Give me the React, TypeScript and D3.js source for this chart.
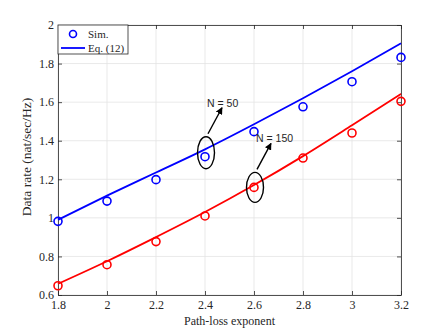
import React, { useEffect, useRef } from "react";
import * as d3 from "d3";

// path-loss exponent values on the x axis
const exponents = [1.8, 2.0, 2.2, 2.4, 2.6, 2.8, 3.0, 3.2];

// N = 50
const simN50 = [0.982, 1.087, 1.198, 1.317, 1.447, 1.576, 1.706, 1.832];
const eqN50 = [0.99, 1.115, 1.235, 1.355, 1.485, 1.62, 1.76, 1.905];

// N = 150
const simN150 = [0.648, 0.757, 0.877, 1.01, 1.158, 1.31, 1.44, 1.604];
const eqN150 = [0.658, 0.775, 0.9, 1.03, 1.17, 1.32, 1.48, 1.643];

const xTicks = [1.8, 2, 2.2, 2.4, 2.6, 2.8, 3, 3.2];
const yTicks = [0.6, 0.8, 1, 1.2, 1.4, 1.6, 1.8, 2];

const App = () => {
  const svgRef = useRef<SVGSVGElement>(null);

  useEffect(() => {
    const width = 443;
    const height = 332;
    const margin = { top: 25, right: 42, bottom: 37, left: 58 };

    const svg = d3.select(svgRef.current);
    svg.selectAll("*").remove();

    const x = d3
      .scaleLinear()
      .domain([1.8, 3.2])
      .range([margin.left, width - margin.right]);
    const y = d3
      .scaleLinear()
      .domain([0.6, 2])
      .range([height - margin.bottom, margin.top]);

    const serif = "'Liberation Serif', 'Times New Roman', serif";
    const sans = "'Liberation Sans', Arial, sans-serif";
    const axisColor = "#262626";

    svg.append("rect").attr("width", width).attr("height", height).attr("fill", "#fff");

    // grid
    const grid = svg.append("g").attr("stroke", "#e3e3e3").attr("stroke-width", 0.8);
    xTicks.forEach((t) => {
      grid
        .append("line")
        .attr("x1", x(t))
        .attr("x2", x(t))
        .attr("y1", y(0.6))
        .attr("y2", y(2));
    });
    yTicks.forEach((t) => {
      grid
        .append("line")
        .attr("x1", x(1.8))
        .attr("x2", x(3.2))
        .attr("y1", y(t))
        .attr("y2", y(t));
    });

    // axes (ticks inside, box all round)
    const fmt = (d: d3.NumberValue) => String(+d);
    const styleAxis = (g: any) => {
      g.select(".domain").attr("stroke", axisColor).attr("stroke-width", 0.8);
      g.selectAll(".tick line").attr("stroke", axisColor).attr("stroke-width", 0.8);
      g.selectAll("text")
        .attr("fill", axisColor)
        .style("font-family", serif)
        .style("font-size", "12px");
    };

    svg
      .append("g")
      .attr("transform", `translate(0,${y(0.6)})`)
      .call(d3.axisBottom(x).tickValues(xTicks).tickFormat(fmt).tickSizeInner(-4).tickSizeOuter(0).tickPadding(5))
      .call(styleAxis);
    svg
      .append("g")
      .attr("transform", `translate(0,${y(2)})`)
      .call(d3.axisTop(x).tickValues(xTicks).tickFormat(() => "").tickSizeInner(-4).tickSizeOuter(0))
      .call(styleAxis);
    svg
      .append("g")
      .attr("transform", `translate(${x(1.8)},0)`)
      .call(d3.axisLeft(y).tickValues(yTicks).tickFormat(fmt).tickSizeInner(-4).tickSizeOuter(0).tickPadding(4))
      .call(styleAxis);
    svg
      .append("g")
      .attr("transform", `translate(${x(3.2)},0)`)
      .call(d3.axisRight(y).tickValues(yTicks).tickFormat(() => "").tickSizeInner(-4).tickSizeOuter(0))
      .call(styleAxis);

    // axis titles
    svg
      .append("text")
      .attr("x", (x(1.8) + x(3.2)) / 2)
      .attr("y", 325)
      .attr("text-anchor", "middle")
      .attr("fill", axisColor)
      .style("font-family", serif)
      .style("font-size", "12px")
      .text("Path-loss exponent");
    svg
      .append("text")
      .attr("transform", `translate(31,157) rotate(-90)`)
      .attr("text-anchor", "middle")
      .attr("fill", axisColor)
      .style("font-family", serif)
      .style("font-size", "13.5px")
      .text("Data rate (nat/sec/Hz)");

    // series
    const series = [
      { sim: simN50, eq: eqN50, color: "#0000ff" },
      { sim: simN150, eq: eqN150, color: "#ff0000" },
    ];
    const line = d3
      .line<number>()
      .x((_, i) => x(exponents[i]))
      .y((d) => y(d))
      .curve(d3.curveMonotoneX);

    series.forEach((s) => {
      svg
        .append("path")
        .attr("d", line(s.eq))
        .attr("fill", "none")
        .attr("stroke", s.color)
        .attr("stroke-width", 1.8);
      svg
        .append("g")
        .selectAll("circle")
        .data(s.sim)
        .join("circle")
        .attr("cx", (_, i) => x(exponents[i]))
        .attr("cy", (d) => y(d))
        .attr("r", 4)
        .attr("fill", "none")
        .attr("stroke", s.color)
        .attr("stroke-width", 1.6);
    });

    // annotations: ellipse around a sim point, arrow, label
    svg
      .append("defs")
      .append("marker")
      .attr("id", "arr")
      .attr("viewBox", "0 0 10 10")
      .attr("refX", 9)
      .attr("refY", 5)
      .attr("markerWidth", 5)
      .attr("markerHeight", 5)
      .attr("orient", "auto")
      .append("path")
      .attr("d", "M0,0 L10,5 L0,10 Z")
      .attr("fill", "#000");

    const notes = [
      { xi: 3, vals: simN50, dy: -2, label: "N = 50", ry: 16 },
      { xi: 4, vals: simN150, dy: 2, label: "N = 150", ry: 15 },
    ];
    notes.forEach((n) => {
      const cx = x(exponents[n.xi]);
      const cy = y(n.vals[n.xi]) + n.dy;
      svg
        .append("ellipse")
        .attr("cx", cx + 1)
        .attr("cy", cy - 2)
        .attr("rx", 8.5)
        .attr("ry", n.ry)
        .attr("fill", "none")
        .attr("stroke", "#000")
        .attr("stroke-width", 1.4);
      svg
        .append("line")
        .attr("x1", cx + 3)
        .attr("y1", cy - 2 - n.ry - 3)
        .attr("x2", cx + 17)
        .attr("y2", cy - 2 - n.ry - 29)
        .attr("stroke", "#000")
        .attr("stroke-width", 1.4)
        .attr("marker-end", "url(#arr)");
      svg
        .append("text")
        .attr("x", cx + 2)
        .attr("y", cy - 2 - n.ry - 30)
        .attr("fill", "#262626")
        .style("font-family", sans)
        .style("font-size", "10.5px")
        .text(n.label);
    });

    // legend
    const lg = svg.append("g").attr("transform", `translate(${x(1.8)},${y(2)})`);
    lg.append("rect")
      .attr("width", 70)
      .attr("height", 29)
      .attr("fill", "#fff")
      .attr("stroke", axisColor)
      .attr("stroke-width", 0.8);
    lg.append("circle")
      .attr("cx", 15)
      .attr("cy", 9)
      .attr("r", 3.5)
      .attr("fill", "none")
      .attr("stroke", "#0000ff")
      .attr("stroke-width", 1.6);
    lg.append("line")
      .attr("x1", 3)
      .attr("x2", 27)
      .attr("y1", 23)
      .attr("y2", 23)
      .attr("stroke", "#0000ff")
      .attr("stroke-width", 1.8);
    [
      { t: "Sim.", yy: 12.5 },
      { t: "Eq. (12)", yy: 26.5 },
    ].forEach((e) => {
      lg.append("text")
        .attr("x", 30)
        .attr("y", e.yy)
        .attr("fill", axisColor)
        .style("font-family", serif)
        .style("font-size", "11px")
        .text(e.t);
    });
  }, []);

  return (
    <svg
      ref={svgRef}
      width={443}
      height={332}
      style={{ position: "absolute", left: 0, top: 0 }}
    />
  );
};

export default App;
